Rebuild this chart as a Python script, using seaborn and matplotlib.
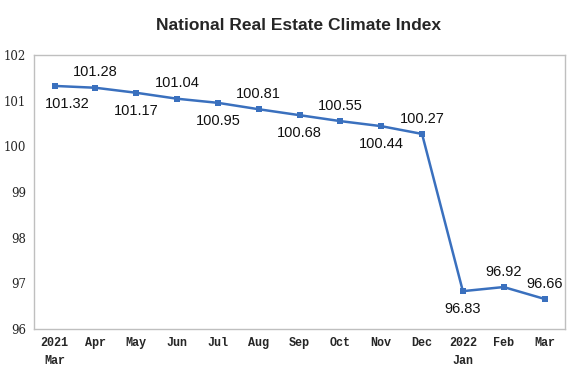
import seaborn as sns
import pandas as pd
import matplotlib.pyplot as plt
from matplotlib.ticker import FixedLocator

months = ['2021\nMar', 'Apr', 'May', 'Jun', 'Jul', 'Aug', 'Sep',
          'Oct', 'Nov', 'Dec', '2022\nJan', 'Feb', 'Mar']
values = [101.32, 101.28, 101.17, 101.04, 100.95, 100.81, 100.68,
          100.55, 100.44, 100.27, 96.83, 96.92, 96.66]
# label above (1) or below (-1) the point
label_side = [-1, 1, -1, 1, -1, 1, -1, 1, -1, 1, -1, 1, 1]

df = pd.DataFrame({'pos': range(len(months)), 'value': values})

sns.set_style('white')
fig = plt.figure(figsize=(5.8, 3.89), dpi=100)
ax = fig.add_axes([0.059, 0.154, 0.915, 0.705])

sns.lineplot(data=df, x='pos', y='value', ax=ax, color='#3A70BE',
             linewidth=1.8, marker='s', markersize=4.5,
             markeredgewidth=0, markerfacecolor='#3A70BE')

for i, (v, s) in enumerate(zip(values, label_side)):
    dx = 9 if i == 0 else 0  # first label nudged right, away from the axis
    ax.annotate(f'{v:.2f}', (i, v), xytext=(dx, 6 if s > 0 else -8),
                textcoords='offset points', ha='center',
                va='bottom' if s > 0 else 'top',
                fontsize=10.5, family='Liberation Sans', color='#111111')

ax.set_xlim(-0.5, len(months) - 0.5)
ax.set_ylim(96, 102)
ax.set_yticks(range(96, 103))
ax.set_xticks(range(len(months)))
ax.set_xticklabels(months, family='Liberation Mono', fontsize=8.5,
                   fontweight='bold', linespacing=1.6, va='top')
ax.set_yticklabels([str(t) for t in range(96, 103)],
                   family='DejaVu Serif', fontsize=8.5)
ax.tick_params(axis='both', length=0, pad=6)
ax.xaxis.set_minor_locator(FixedLocator([i + 0.5 for i in range(len(months) - 1)]))
ax.tick_params(axis='x', which='minor', direction='in', length=4,
               color='#BFBFBF', width=0.8)
ax.set_xlabel('')
ax.set_ylabel('')
for sp in ax.spines.values():
    sp.set_color('#BFBFBF')
    sp.set_linewidth(1.0)

fig.suptitle('National Real Estate Climate Index', x=0.515, y=0.955,
             fontsize=12.5, fontweight='bold', family='Liberation Sans')

fig.savefig('out.png', dpi=100)
